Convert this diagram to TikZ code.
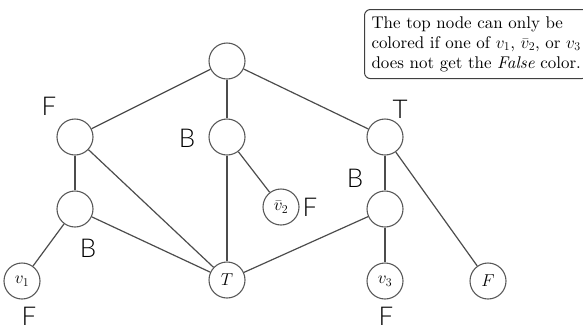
\documentclass[tikz,border=0pt]{standalone}
\usepackage{fontspec}
\newfontfamily\hand{Lato Light}
\newfontfamily\bookfont{lmroman10-regular.otf}[ItalicFont=lmroman10-italic.otf]
\begin{document}
\begin{tikzpicture}[x=1bp,y=-1bp,
  vtx/.style={circle,draw=black!65,line width=1.1bp,minimum size=36bp,inner sep=0pt,font=\fontsize{17}{19}\selectfont},
  edge/.style={draw=black!70,line width=1.2bp},
  handlbl/.style={font=\hand\fontsize{26}{26}\selectfont,inner sep=0pt},
  notebox/.style={draw=black!75,line width=1bp,rounded corners=6bp,inner xsep=7bp,inner ysep=7bp,align=left,anchor=north west,font=\bookfont\fontsize{17}{20}\selectfont}]
\useasboundingbox (0,0) rectangle (583,329);
\node[vtx] (top) at (227,61) {};
\node[vtx] (l2) at (75,137) {};
\node[vtx] (l3) at (75,209) {};
\node[vtx] (v1) at (22,281) {$v_1$};
\node[vtx] (m2) at (227,137) {};
\node[vtx] (v2) at (281,207) {$\bar{v}_2$};
\node[vtx] (t) at (227,280) {$T$};
\node[vtx] (r2) at (385,137) {};
\node[vtx] (r3) at (385,209) {};
\node[vtx] (v3) at (385,281) {$v_3$};
\node[vtx] (f) at (488,281) {$F$};
\draw[edge] (top) -- (l2);
\draw[edge] (top) -- (m2);
\draw[edge] (top) -- (r2);
\draw[edge] (l2) -- (l3);
\draw[edge] (l2) -- (t);
\draw[edge] (l3) -- (v1);
\draw[edge] (l3) -- (t);
\draw[edge] (m2) -- (t);
\draw[edge] (m2) -- (v2);
\draw[edge] (r2) -- (r3);
\draw[edge] (r2) -- (f);
\draw[edge] (r3) -- (v3);
\draw[edge] (r3) -- (t);
\node[handlbl] (hl2) at (49,106) {F};
\node[handlbl] (hm2) at (187,138) {B};
\node[handlbl] (hr2) at (400,109) {T};
\node[handlbl] (hr3) at (355,178) {B};
\node[handlbl] (hv2) at (310,207) {F};
\node[handlbl] (hl3) at (88,248) {B};
\node[handlbl] (hv1) at (29,316) {F};
\node[handlbl] (hv3) at (386,316) {F};
\node[notebox] (note) at (364,9) {The top node can only be\\colored if one of $v_1$, $\bar{v}_2$, or $v_3$\\does not get the \textit{False} color.};
\end{tikzpicture}
\end{document}
